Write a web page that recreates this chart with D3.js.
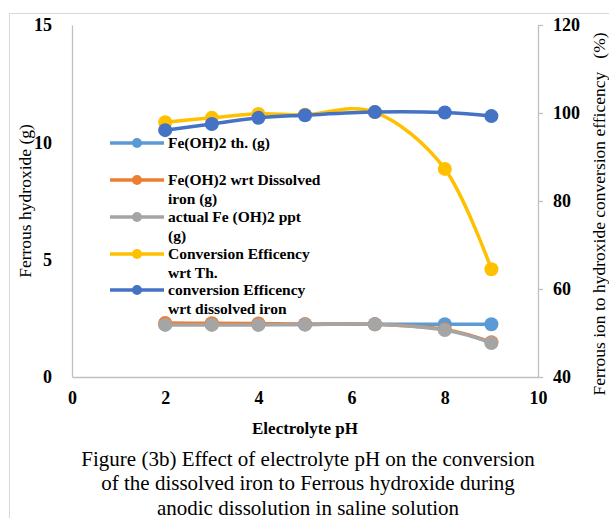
<!DOCTYPE html>
<html>
<head>
<meta charset="utf-8">
<script src="https://cdn.jsdelivr.net/npm/d3@7"></script>
<style>
  body { margin: 0; background: #fff; }
  svg text { font-family: 'Liberation Serif', 'Times New Roman', serif; fill: #000; }
</style>
</head>
<body>
<div class="visHolder"></div>
<script>
// electrolyte pH (x)
const phValues = [2, 3, 4, 5, 6.5, 8, 9]

// left axis series (g)
const feTh = [2.25, 2.25, 2.25, 2.25, 2.25, 2.25, 2.25]
const feDissolved = [2.3, 2.29, 2.28, 2.25, 2.25, 2.03, 1.48]
const feActual = [2.22, 2.22, 2.22, 2.23, 2.25, 2.0, 1.45]

// right axis series (%)
const effTh = [97.9, 98.9, 99.8, 99.6, 100.2, 87.3, 64.5]
const effDissolved = [96.1, 97.5, 98.9, 99.5, 100.2, 100.1, 99.3]

const xTicks = [0, 2, 4, 6, 8, 10]
const yLeftTicks = [0, 5, 10, 15]
const yRightTicks = [40, 60, 80, 100, 120]

const seriesNames = [
  ['Fe(OH)2 th. (g)'],
  ['Fe(OH)2 wrt Dissolved', 'iron (g)'],
  ['actual Fe (OH)2 ppt', '(g)'],
  ['Conversion Efficency', 'wrt Th.'],
  ['conversion Efficency', 'wrt dissolved iron']
]
const colors = ['#5b9bd5', '#ed7d31', '#a5a5a5', '#ffc000', '#4472c4']

const captionLines = [
  'Figure (3b) Effect of electrolyte pH on the conversion',
  'of the dissolved iron to Ferrous hydroxide during',
  'anodic dissolution in saline solution'
]

const width = 609
const height = 518

const svg = d3.select('.visHolder').append('svg')
  .attr('width', width)
  .attr('height', height)

// outer frame of the chart object (runs off the page right/bottom)
svg.append('rect')
  .attr('x', 9.5).attr('y', 13.5)
  .attr('width', 700).attr('height', 600)
  .attr('fill', 'none')
  .attr('stroke', '#d9d9d9')

// plot area
const plotLeft = 72, plotRight = 538, plotTop = 25, plotBottom = 377

const xScale = d3.scaleLinear().domain([0, 10]).range([plotLeft, plotRight])
const yLeft = d3.scaleLinear().domain([0, 15]).range([plotBottom, plotTop])
const yRight = d3.scaleLinear().domain([40, 120]).range([plotBottom, plotTop])

// axes
const xAxis = svg.append('g')
  .attr('transform', `translate(0, ${plotBottom})`)
  .call(d3.axisBottom(xScale).tickValues(xTicks).tickSize(0).tickPadding(14))
xAxis.select('.domain').attr('stroke', '#bfbfbf').attr('stroke-width', 1.3)

const yAxisL = svg.append('g')
  .attr('transform', `translate(${plotLeft}, 0)`)
  .call(d3.axisLeft(yLeft).tickValues(yLeftTicks).tickSize(0).tickPadding(20))
yAxisL.select('.domain').attr('stroke', '#bfbfbf').attr('stroke-width', 1.3)

const yAxisR = svg.append('g')
  .attr('transform', `translate(${plotRight}, 0)`)
  .call(d3.axisRight(yRight).tickValues(yRightTicks).tickSize(5).tickPadding(10).tickSizeOuter(0))
yAxisR.select('.domain').attr('stroke', '#bfbfbf').attr('stroke-width', 1.3)
yAxisR.selectAll('.tick line').attr('stroke', '#bfbfbf').attr('stroke-width', 1.3)

// axis groups default to sans-serif, switch them to the serif face
svg.selectAll('g').attr('font-family', null).attr('font-size', null)
svg.selectAll('.tick text')
  .style('font-family', "'Liberation Serif', serif")
  .style('font-weight', 'bold')
  .style('font-size', '18px')
  .attr('fill', '#000')

// axis titles
svg.append('text')
  .attr('transform', 'translate(31, 201) rotate(-90)')
  .attr('text-anchor', 'middle')
  .style('font-size', '17.5px')
  .text('Ferrous hydroxide (g)')

svg.append('text')
  .attr('transform', 'translate(605, 214) rotate(-90)')
  .attr('text-anchor', 'middle')
  .attr('xml:space', 'preserve')
  .style('font-size', '17.5px')
  .text('Ferrous ion to hydroxide conversion efficency   (%)')

svg.append('text')
  .attr('x', 305).attr('y', 434)
  .attr('text-anchor', 'middle')
  .style('font-size', '17px')
  .style('font-weight', 'bold')
  .text('Electrolyte pH')

// caption under the chart
svg.append('g').selectAll('text')
  .data(captionLines)
  .enter()
  .append('text')
  .attr('x', 308)
  .attr('y', (d, i) => 466 + i * 24.3)
  .attr('text-anchor', 'middle')
  .style('font-size', '21px')
  .text(d => d)

// series: [values, scale]
const series = [
  [feTh, yLeft],
  [feDissolved, yLeft],
  [feActual, yLeft],
  [effTh, yRight],
  [effDissolved, yRight]
]

series.forEach((s, k) => {
  const pts = phValues.map((p, i) => [p, s[0][i]])
  const yScale = s[1]
  const line = d3.line()
    .x(d => xScale(d[0]))
    .y(d => yScale(d[1]))
    .curve(d3.curveCatmullRom.alpha(0))

  svg.append('path')
    .datum(pts)
    .attr('d', line)
    .attr('fill', 'none')
    .attr('stroke', colors[k])
    .attr('stroke-width', 3.5)

  svg.append('g').selectAll('circle')
    .data(pts)
    .enter()
    .append('circle')
    .attr('cx', d => xScale(d[0]))
    .attr('cy', d => yScale(d[1]))
    .attr('r', 7)
    .attr('fill', colors[k])
})

// legend (inside the plot, no box)
const legendY = [143, 180, 217, 254, 290]
const legend = svg.append('g')
  .selectAll('g')
  .data(seriesNames)
  .enter()
  .append('g')
  .attr('transform', (d, i) => `translate(0, ${legendY[i]})`)

legend.append('line')
  .attr('x1', 110).attr('x2', 164)
  .attr('stroke', (d, i) => colors[i])
  .attr('stroke-width', 3.5)

legend.append('circle')
  .attr('cx', 137)
  .attr('r', 5)
  .attr('fill', (d, i) => colors[i])

legend.selectAll('text')
  .data(d => d)
  .enter()
  .append('text')
  .attr('x', 168)
  .attr('y', (d, j) => 5 + j * 18.5)
  .style('font-size', '15.5px')
  .style('font-weight', 'bold')
  .text(d => d)
</script>
</body>
</html>
